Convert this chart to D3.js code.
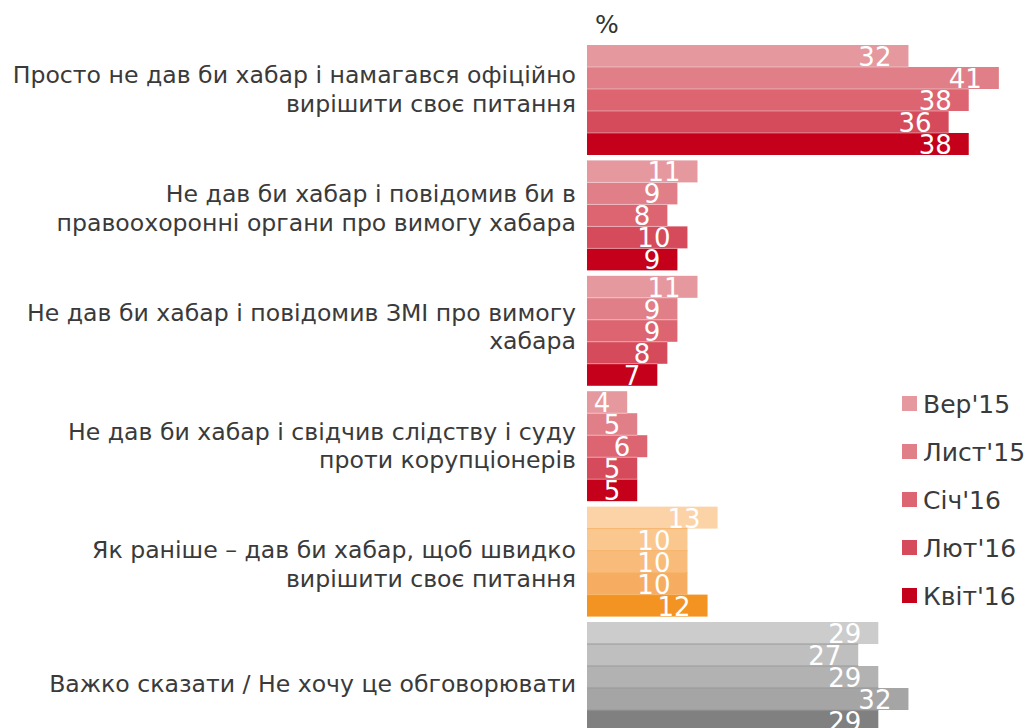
<!DOCTYPE html>
<html>
<head>
<meta charset="utf-8">
<script src="https://cdn.jsdelivr.net/npm/d3@7"></script>
<style>
  body { margin: 0; background: #fff; overflow: hidden; }
  svg { font-family: "DejaVu Sans", Verdana, sans-serif; display: block; }
</style>
</head>
<body>
<svg id="chart" width="1029" height="728"></svg>
<script>
// data
var categories = [
    ["Просто не дав би хабар і намагався офіційно", "вирішити своє питання"],
    ["Не дав би хабар і повідомив би в", "правоохоронні органи про вимогу хабара"],
    ["Не дав би хабар і повідомив ЗМІ про вимогу", "хабара"],
    ["Не дав би хабар і свідчив слідству і суду", "проти корупціонерів"],
    ["Як раніше – дав би хабар, щоб швидко", "вирішити своє питання"],
    ["Важко сказати / Не хочу це обговорювати"]
];
var seriesNames = ["Вер'15", "Лист'15", "Січ'16", "Лют'16", "Квіт'16"];
var ver15  = [32, 11, 11, 4, 13, 29];
var lyst15 = [41, 9, 9, 5, 10, 27];
var sich16 = [38, 8, 9, 6, 10, 29];
var lyut16 = [36, 10, 8, 5, 10, 32];
var kvit16 = [38, 9, 7, 5, 12, 29];
var seriesValues = [ver15, lyst15, sich16, lyut16, kvit16];

var reds    = ["#e5989e", "#e07f88", "#dc6571", "#d54b5b", "#c4001a"];
var oranges = ["#fbd3a6", "#fac78e", "#f8bb79", "#f6ad61", "#f39422"];
var greys   = ["#cccccc", "#bfbfbf", "#b2b2b2", "#a5a5a5", "#808080"];
var groupColors = [reds, reds, reds, reds, oranges, greys];
var sepColors = ["rgba(255,255,255,0.4)", "rgba(255,255,255,0.4)", "rgba(255,255,255,0.4)",
                 "rgba(255,255,255,0.4)", "#f7b46c", "#999999"];

var svg = d3.select("#chart");

var x = d3.scaleLinear().domain([0, 44]).range([587, 1029]);
var yGroup = d3.scaleBand().domain(d3.range(categories.length)).range([45, 732]).paddingInner(0.047).paddingOuter(0);
var yBar = d3.scaleBand().domain(d3.range(seriesNames.length)).range([0, yGroup.bandwidth()]);
// category text sits on its own evenly spaced positions
var yLabel = d3.scalePoint().domain(d3.range(categories.length)).range([89, 683]);

svg.append("text")
    .attr("x", 595).attr("y", 33)
    .attr("font-size", 25).attr("fill", "#333")
    .text("%");

var groups = svg.selectAll("g.grp")
    .data(categories)
    .enter().append("g")
    .attr("class", "grp")
    .attr("transform", function(d, i) { return "translate(0," + yGroup(i) + ")"; });

groups.each(function(cat, gi) {
    var g = d3.select(this);
    var rows = seriesValues.map(function(s, si) { return {si: si, v: s[gi]}; });

    g.selectAll("rect")
        .data(rows)
        .enter().append("rect")
        .attr("x", x(0))
        .attr("y", function(d) { return yBar(d.si); })
        .attr("width", function(d) { return x(d.v) - x(0); })
        .attr("height", yBar.bandwidth())
        .attr("fill", function(d) { return groupColors[gi][d.si]; });

    // thin separators between bars
    g.selectAll("line.sep")
        .data(rows.slice(1))
        .enter().append("line")
        .attr("class", "sep")
        .attr("x1", x(0))
        .attr("x2", function(d) { return x(Math.min(d.v, seriesValues[d.si - 1][gi])); })
        .attr("y1", function(d) { return yBar(d.si); })
        .attr("y2", function(d) { return yBar(d.si); })
        .attr("stroke", sepColors[gi])
        .attr("stroke-width", 1);

    g.selectAll("text.val")
        .data(rows)
        .enter().append("text")
        .attr("class", "val")
        .attr("x", function(d) { return x(d.v) - 17; })
        .attr("y", function(d) { return yBar(d.si) + yBar.bandwidth() - 1; })
        .attr("text-anchor", "end")
        .attr("font-size", 26)
        .attr("fill", "#fff")
        .text(function(d) { return d.v; });
});

// category labels
var lh = 28.5;
categories.forEach(function(cat, gi) {
    var t = svg.append("text")
        .attr("text-anchor", "end")
        .attr("font-size", 23.6)
        .attr("fill", "#3a3a3a");
    cat.forEach(function(line, li) {
        t.append("tspan")
            .attr("x", 576)
            .attr("y", yLabel(gi) + (li - (cat.length - 1) / 2) * lh + 8.5)
            .text(line);
    });
});

// legend
var legend = svg.selectAll("g.leg")
    .data(seriesNames)
    .enter().append("g")
    .attr("class", "leg")
    .attr("transform", function(d, i) { return "translate(902," + (396 + i * 48) + ")"; });
legend.append("rect")
    .attr("x", 0).attr("y", 0)
    .attr("width", 15).attr("height", 15)
    .attr("fill", function(d, i) { return reds[i]; });
legend.append("text")
    .attr("x", 21).attr("y", 17)
    .attr("font-size", 25).attr("fill", "#3a3a3a")
    .text(function(d) { return d; });
</script>
</body>
</html>
